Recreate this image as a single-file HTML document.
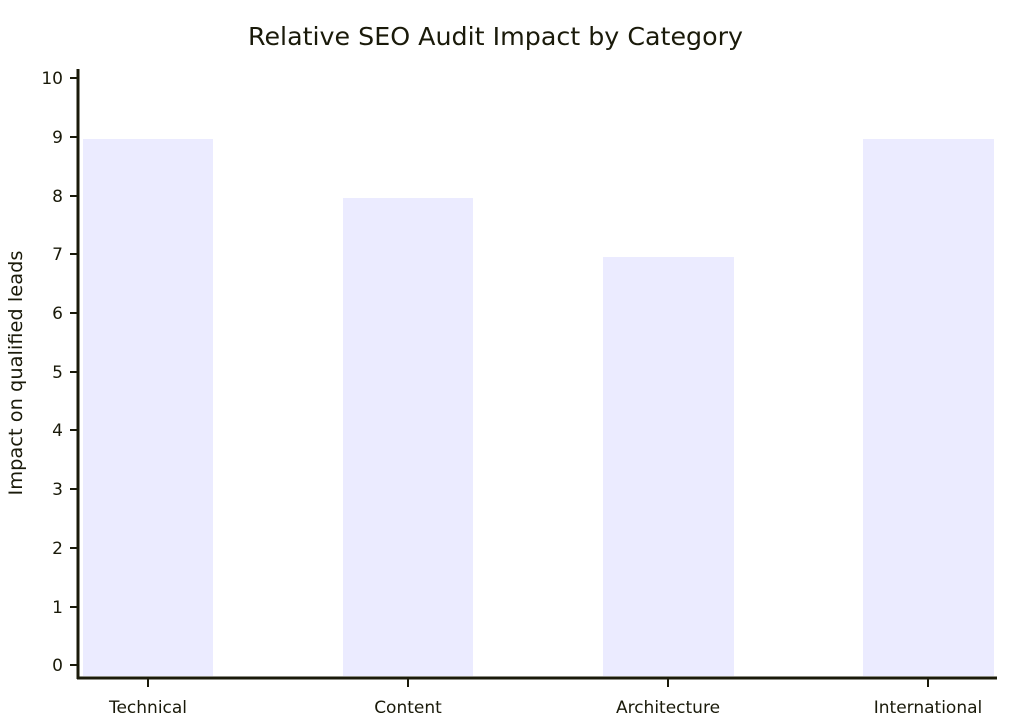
<!DOCTYPE html>
<html><head><meta charset="utf-8"><style>html,body{margin:0;padding:0;background:#fff}svg{display:block}</style></head>
<body>
<svg width="1024" height="724" viewBox="0 0 1024 724" xmlns="http://www.w3.org/2000/svg" font-family="'DejaVu Sans','Liberation Sans',sans-serif" fill="#1a1a0a">
<text x="495.5" y="45" font-size="25" text-anchor="middle" textLength="495" lengthAdjust="spacingAndGlyphs">Relative SEO Audit Impact by Category</text>
<g fill="#ebebff">
<rect x="83" y="139" width="130" height="537"/>
<rect x="343" y="198" width="130" height="478"/>
<rect x="603" y="257" width="131" height="419"/>
<rect x="863" y="139" width="131" height="537"/>
</g>
<g stroke="#1a1a0a">
<line x1="78" y1="69" x2="78" y2="679" stroke-width="3"/>
<line x1="77" y1="678" x2="997" y2="678" stroke-width="3"/>
<g stroke-width="2">
<line x1="70" y1="78" x2="77" y2="78"/><line x1="70" y1="137" x2="77" y2="137"/><line x1="70" y1="196" x2="77" y2="196"/><line x1="70" y1="254" x2="77" y2="254"/><line x1="70" y1="313" x2="77" y2="313"/><line x1="70" y1="372" x2="77" y2="372"/><line x1="70" y1="430" x2="77" y2="430"/><line x1="70" y1="489" x2="77" y2="489"/><line x1="70" y1="548" x2="77" y2="548"/><line x1="70" y1="607" x2="77" y2="607"/><line x1="70" y1="665" x2="77" y2="665"/>
<line x1="148" y1="679" x2="148" y2="687"/><line x1="408" y1="679" x2="408" y2="687"/><line x1="668" y1="679" x2="668" y2="687"/><line x1="928" y1="679" x2="928" y2="687"/>
</g></g>
<g font-size="17" text-anchor="end">
<text x="63" y="84">10</text><text x="63" y="143">9</text><text x="63" y="202">8</text><text x="63" y="260">7</text><text x="63" y="319">6</text><text x="63" y="378">5</text><text x="63" y="436">4</text><text x="63" y="495">3</text><text x="63" y="554">2</text><text x="63" y="613">1</text><text x="63" y="671">0</text>
</g>
<g font-size="17" text-anchor="middle">
<text x="148" y="713">Technical</text><text x="408" y="713">Content</text><text x="668" y="713">Architecture</text><text x="928" y="713">International</text>
</g>
<text transform="translate(22,373) rotate(-90)" font-size="19" text-anchor="middle" textLength="245" lengthAdjust="spacingAndGlyphs">Impact on qualified leads</text>
</svg>
</body></html>
